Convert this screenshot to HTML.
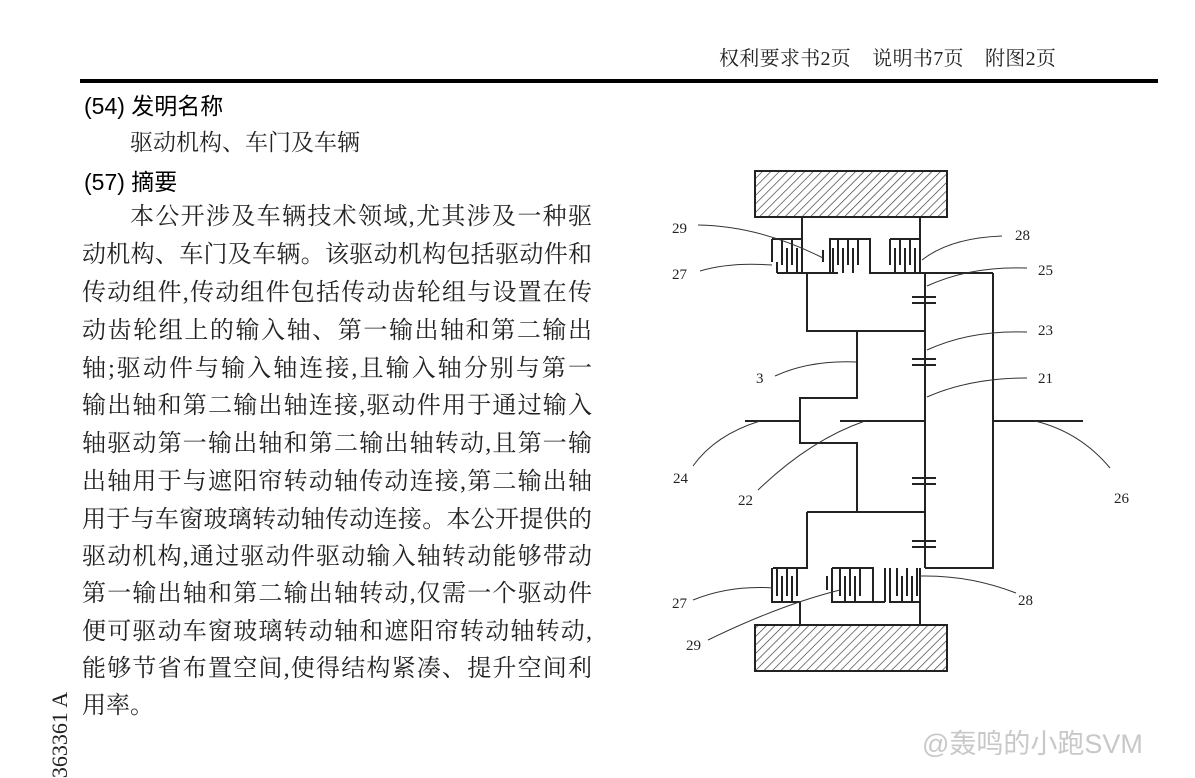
<!DOCTYPE html>
<html><head><meta charset="utf-8"><style>
html,body{margin:0;padding:0;background:#fff;}
body{width:1195px;height:775px;position:relative;overflow:hidden;font-family:"Liberation Serif","Noto Serif CJK SC",serif;color:#111;}
.a{position:absolute;white-space:nowrap;}
.ln{position:absolute;left:82px;width:510px;height:38px;line-height:38px;font-size:24px;text-align:justify;text-align-last:justify;white-space:nowrap;color:#222;}
.h{font-family:"Liberation Sans","Noto Sans CJK SC",sans-serif;font-size:23px;color:#000;}
</style></head><body>
<div class="a" style="left:719px;top:45px;font-size:20px;line-height:28px;color:#222;letter-spacing:0.3px;">权利要求书2页&nbsp;&nbsp;&nbsp;&nbsp;说明书7页&nbsp;&nbsp;&nbsp;&nbsp;附图2页</div>
<div class="a" style="left:80px;top:79px;width:1078px;height:4px;background:#000;"></div>
<div class="a h" style="left:84px;top:90px;line-height:32px;">(54)&nbsp;发明名称</div>
<div class="a" style="left:130px;top:127px;font-size:23px;line-height:32px;color:#222;">驱动机构、车门及车辆</div>
<div class="a h" style="left:84px;top:166px;line-height:32px;">(57)&nbsp;摘要</div>
<div class="ln" style="top:198px;left:130px;width:462px;">本公开涉及车辆技术领域,尤其涉及一种驱</div>
<div class="ln" style="top:236px;">动机构、车门及车辆。该驱动机构包括驱动件和</div>
<div class="ln" style="top:274px;">传动组件,传动组件包括传动齿轮组与设置在传</div>
<div class="ln" style="top:312px;">动齿轮组上的输入轴、第一输出轴和第二输出</div>
<div class="ln" style="top:350px;">轴;驱动件与输入轴连接,且输入轴分别与第一</div>
<div class="ln" style="top:387px;">输出轴和第二输出轴连接,驱动件用于通过输入</div>
<div class="ln" style="top:425px;">轴驱动第一输出轴和第二输出轴转动,且第一输</div>
<div class="ln" style="top:463px;">出轴用于与遮阳帘转动轴传动连接,第二输出轴</div>
<div class="ln" style="top:501px;">用于与车窗玻璃转动轴传动连接。本公开提供的</div>
<div class="ln" style="top:538px;">驱动机构,通过驱动件驱动输入轴转动能够带动</div>
<div class="ln" style="top:575px;">第一输出轴和第二输出轴转动,仅需一个驱动件</div>
<div class="ln" style="top:613px;">便可驱动车窗玻璃转动轴和遮阳帘转动轴转动,</div>
<div class="ln" style="top:650px;">能够节省布置空间,使得结构紧凑、提升空间利</div>
<div class="ln" style="top:687px;text-align-last:left;">用率。</div>
<div class="a" style="left:60px;top:735px;font-size:22px;line-height:22px;transform:translate(-50%,-50%) rotate(-90deg);transform-origin:center;color:#222;">363361 A</div>
<div class="a" style="left:922px;top:727px;font-family:'Liberation Sans','Noto Sans CJK SC',sans-serif;font-size:27px;line-height:34px;color:#c8c8c8;">@轰鸣的小跑SVM</div>

<svg class="a" style="left:0;top:0" width="1195" height="775" viewBox="0 0 1195 775">
<defs><pattern id="hp" width="6" height="6" patternUnits="userSpaceOnUse" patternTransform="rotate(45)"><line x1="0" y1="0" x2="0" y2="6" stroke="#333" stroke-width="1.3"/></pattern></defs>
<g fill="none" stroke="#222" stroke-width="2">
<rect x="755" y="171" width="192" height="46" fill="url(#hp)"/>
<rect x="755" y="625" width="192" height="46" fill="url(#hp)"/>
<path d="M802 217V239M920 217V239M800 602V625M920 602V625"/>
<path d="M772 239H802M772 239V262M782 239V265M792 239V265M802 239V273M777 273H838M777 262V273M787 248V273M797 248V273"/>
<path d="M823 262V250M830 273V239H870V273H993M838 239V265M848 239V265M833 248V273M843 248V273M853 248V273M858 239V265"/>
<path d="M890 239H920M890 239V265M900 239V265M910 239V265M920 239V273M895 248V273M905 248V273M915 248V273M887 273H920"/>
<path d="M993 273V568H925M925 273V568M807 273V331H925M857 331V398H800V443H857V512H807M857 512H925M807 512V568H773"/>
<path d="M745 421H800M840 421H925M992 421H1083"/>
<path d="M912 297H936M912 303H936M912 359H936M912 365H936M912 478H936M912 484H936M912 541H936M912 547H936"/>
<path d="M772 568V602H800M777 568V596M787 568V596M797 568V596M772 602V590M782 576V602M792 576V602"/>
<path d="M832 568H873V602H832V568M840 568V596M850 568V596M860 568V596M845 576V602M855 576V602M827 590V576"/>
<path d="M873 602H885M885 602V568M890 568V602H920V568M897 568V596M907 568V596M917 568V596M902 576V602M912 576V602"/>
</g>
<g fill="none" stroke="#333" stroke-width="1">
<path d="M698 225Q760 226 823 258"/>
<path d="M700 271Q730 262 772 265"/>
<path d="M1002 236Q950 238 922 260"/>
<path d="M1027 268Q970 266 927 286"/>
<path d="M1027 332Q970 330 927 350"/>
<path d="M775 376Q810 360 857 362"/>
<path d="M1027 378Q970 378 927 397"/>
<path d="M693 466Q715 435 760 421"/>
<path d="M758 490Q810 440 865 421"/>
<path d="M1110 468Q1080 432 1035 421"/>
<path d="M693 600Q730 585 773 588"/>
<path d="M1016 593Q970 575 920 576"/>
<path d="M708 640Q780 605 840 590"/>
</g>
<g font-family="Liberation Serif, serif" font-size="15" fill="#222">
<text x="672" y="233">29</text><text x="672" y="279">27</text><text x="1015" y="240">28</text>
<text x="1038" y="275">25</text><text x="1038" y="335">23</text><text x="756" y="383">3</text>
<text x="1038" y="383">21</text><text x="673" y="483">24</text><text x="738" y="505">22</text>
<text x="1114" y="503">26</text><text x="672" y="608">27</text><text x="1018" y="605">28</text>
<text x="686" y="650">29</text>
</g>
</svg>
</body></html>
